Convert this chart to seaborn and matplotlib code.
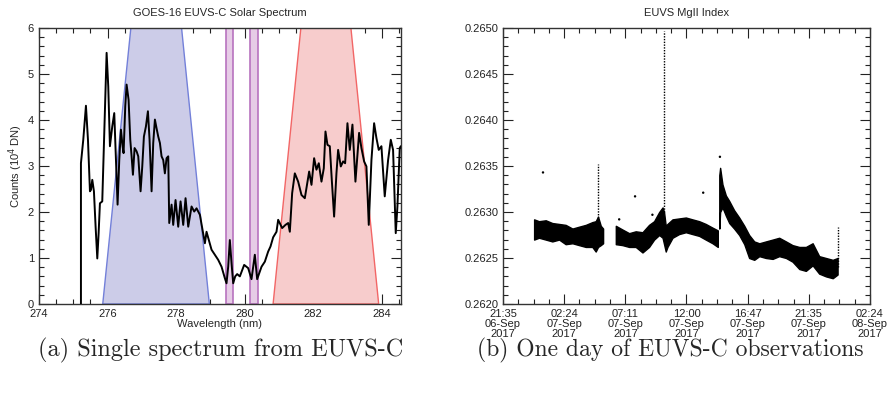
import numpy as np
import pandas as pd
import seaborn as sns
import matplotlib
matplotlib.use("Agg")
import matplotlib.pyplot as plt
import matplotlib.dates as mdates
from matplotlib.ticker import MultipleLocator, FixedLocator

# ---- panel (a): spectrum ----
wavelength = [275.224, 275.224, 275.292, 275.370, 275.429, 275.487, 275.516, 275.555, 275.603, 275.652,
              275.701, 275.740, 275.778, 275.846, 275.905, 275.973, 276.021, 276.070, 276.138, 276.196,
              276.245, 276.293, 276.342, 276.391, 276.439, 276.468, 276.517, 276.556, 276.614, 276.663,
              276.702, 276.741, 276.789, 276.847, 276.896, 276.964, 277.013, 277.061, 277.120, 277.178,
              277.226, 277.285, 277.333, 277.382, 277.430, 277.479, 277.528, 277.576, 277.625, 277.673,
              277.722, 277.771, 277.800, 277.868, 277.916, 277.984, 278.062, 278.130, 278.208, 278.276,
              278.354, 278.451, 278.529, 278.597, 278.694, 278.772, 278.840, 278.888, 278.956, 279.034,
              279.131, 279.228, 279.326, 279.423, 279.471, 279.520, 279.568, 279.617, 279.666, 279.724,
              279.782, 279.860, 279.986, 280.103, 280.200, 280.297, 280.365, 280.492, 280.589, 280.686,
              280.754, 280.832, 280.929, 280.978, 281.094, 281.191, 281.269, 281.318, 281.386, 281.464,
              281.561, 281.658, 281.755, 281.833, 281.882, 281.950, 282.027, 282.095, 282.163, 282.241,
              282.309, 282.358, 282.416, 282.484, 282.542, 282.610, 282.678, 282.727, 282.805, 282.873,
              282.931, 282.999, 283.067, 283.145, 283.232, 283.339, 283.407, 283.485, 283.553, 283.621,
              283.699, 283.777, 283.844, 283.912, 283.990, 284.087, 284.185, 284.263, 284.330, 284.408,
              284.457, 284.525, 284.555]
counts = [0.00, 3.06, 3.57, 4.31, 3.57, 2.45, 2.48, 2.70, 2.45, 1.68,
          0.99, 1.54, 2.19, 2.23, 3.72, 5.46, 4.73, 3.43, 3.86, 4.15,
          3.13, 2.16, 3.13, 3.79, 3.43, 3.28, 4.30, 4.77, 4.44, 3.57,
          3.21, 2.81, 3.39, 3.32, 3.21, 2.45, 2.99, 3.64, 3.86, 4.19,
          3.57, 2.45, 3.50, 4.01, 3.82, 3.64, 3.50, 3.21, 3.13, 2.84,
          3.17, 3.21, 1.76, 2.16, 1.72, 2.26, 1.68, 2.23, 1.72, 2.30,
          1.68, 2.12, 2.01, 2.08, 1.94, 1.61, 1.32, 1.57, 1.39, 1.18,
          1.07, 0.96, 0.81, 0.56, 0.45, 0.81, 1.39, 0.89, 0.45, 0.60,
          0.65, 0.60, 0.85, 0.78, 0.54, 1.07, 0.54, 0.81, 0.92, 1.14,
          1.25, 1.45, 1.57, 1.83, 1.65, 1.72, 1.76, 1.57, 2.41, 2.84,
          2.66, 2.37, 2.30, 2.66, 2.88, 2.59, 3.17, 2.92, 3.06, 2.66,
          2.95, 3.75, 3.46, 3.43, 2.70, 1.90, 2.84, 3.35, 2.99, 3.10,
          3.06, 3.93, 3.35, 3.90, 2.66, 3.72, 3.39, 3.10, 2.99, 1.72,
          3.13, 3.93, 3.61, 3.35, 3.43, 2.34, 3.13, 3.57, 3.35, 1.54,
          2.12, 3.39, 3.43]

# shaded windows (wavelength corners)
blue_x = [275.86, 276.68, 278.16, 278.97]
red_x = [280.83, 281.64, 283.10, 283.91]
purple_bands = [(279.47, 279.66), (280.17, 280.39)]

# ---- panel (b): MgII index band (lower / upper envelope) ----
seg1_time = ["2017-09-07 00:02", "2017-09-07 00:25", "2017-09-07 00:57", "2017-09-07 01:28",
             "2017-09-07 02:00", "2017-09-07 02:31", "2017-09-07 03:03", "2017-09-07 03:34",
             "2017-09-07 04:06", "2017-09-07 04:37", "2017-09-07 04:53", "2017-09-07 05:04",
             "2017-09-07 05:17", "2017-09-07 05:28"]
seg1_lo = [0.26270, 0.26272, 0.26270, 0.26268, 0.26270, 0.26265, 0.26266, 0.26264,
           0.26262, 0.26262, 0.26257, 0.26262, 0.26264, 0.26266]
seg1_hi = [0.26292, 0.26290, 0.26291, 0.26288, 0.26287, 0.26286, 0.26282, 0.26284,
           0.26286, 0.26289, 0.26290, 0.26295, 0.26285, 0.26282]

seg2_time = ["2017-09-07 06:28", "2017-09-07 06:59", "2017-09-07 07:31", "2017-09-07 08:02",
             "2017-09-07 08:34", "2017-09-07 09:05", "2017-09-07 09:29", "2017-09-07 09:53",
             "2017-09-07 10:09", "2017-09-07 10:16", "2017-09-07 10:24", "2017-09-07 10:32",
             "2017-09-07 10:56", "2017-09-07 11:27", "2017-09-07 11:59", "2017-09-07 12:30",
             "2017-09-07 13:02", "2017-09-07 13:33", "2017-09-07 14:05", "2017-09-07 14:30"]
seg2_lo = [0.26265, 0.26264, 0.26262, 0.26262, 0.26256, 0.26262, 0.26270, 0.26275,
           0.26272, 0.26265, 0.26257, 0.26262, 0.26272, 0.26276, 0.26278, 0.26276,
           0.26274, 0.26270, 0.26266, 0.26262]
seg2_hi = [0.26285, 0.26281, 0.26277, 0.26279, 0.26278, 0.26286, 0.26290, 0.26300,
           0.26305, 0.26300, 0.26285, 0.26287, 0.26292, 0.26293, 0.26294, 0.26292,
           0.26290, 0.26287, 0.26283, 0.26280]

seg3_time = ["2017-09-07 14:37", "2017-09-07 14:41", "2017-09-07 14:52", "2017-09-07 15:08",
             "2017-09-07 15:24", "2017-09-07 15:47", "2017-09-07 16:11", "2017-09-07 16:35",
             "2017-09-07 16:58", "2017-09-07 17:22", "2017-09-07 17:46", "2017-09-07 18:17",
             "2017-09-07 18:49", "2017-09-07 19:20", "2017-09-07 19:52", "2017-09-07 20:23",
             "2017-09-07 20:55", "2017-09-07 21:26", "2017-09-07 21:58", "2017-09-07 22:29",
             "2017-09-07 23:01", "2017-09-07 23:33", "2017-09-07 23:56"]
seg3_lo = [0.26282, 0.26300, 0.26305, 0.26296, 0.26288, 0.26282, 0.26275, 0.26265,
           0.26250, 0.26248, 0.26252, 0.26250, 0.26249, 0.26252, 0.26250, 0.26246,
           0.26238, 0.26236, 0.26242, 0.26233, 0.26230, 0.26228, 0.26232]
seg3_hi = [0.26340, 0.26348, 0.26330, 0.26318, 0.26312, 0.26302, 0.26294, 0.26285,
           0.26275, 0.26268, 0.26266, 0.26268, 0.26270, 0.26272, 0.26268, 0.26264,
           0.26262, 0.26262, 0.26266, 0.26252, 0.26250, 0.26248, 0.26250]

spike_time = ["2017-09-07 05:04", "2017-09-07 10:16", "2017-09-07 23:59"]
spike_lo = [0.26285, 0.26300, 0.26240]
spike_hi = [0.26352, 0.26497, 0.26284]

stray_time = ["2017-09-07 00:44", "2017-09-07 06:44", "2017-09-07 07:59", "2017-09-07 09:21",
              "2017-09-07 13:21", "2017-09-07 14:40"]
stray_val = [0.26343, 0.26292, 0.26317, 0.26297, 0.26321, 0.26360]

tick_labels_b = ["21:35\n06-Sep\n2017", "02:24\n07-Sep\n2017", "07:11\n07-Sep\n2017",
                 "12:00\n07-Sep\n2017", "16:47\n07-Sep\n2017", "21:35\n07-Sep\n2017",
                 "02:24\n08-Sep\n2017"]

sns.set_theme(style="ticks")
plt.rcParams['font.family'] = ['Liberation Sans', 'DejaVu Sans']
plt.rcParams['xtick.direction'] = 'in'
plt.rcParams['ytick.direction'] = 'in'

fig = plt.figure(figsize=(8.92, 3.95), dpi=100)
ax1 = fig.add_axes([0.0437, 0.2304, 0.4058, 0.6987])
ax2 = fig.add_axes([0.5639, 0.2304, 0.4114, 0.6987])

# panel a
ax1.fill([blue_x[0], blue_x[1], blue_x[2], blue_x[3]], [0, 6, 6, 0],
         facecolor=(0.80, 0.80, 0.91), edgecolor=(0.45, 0.50, 0.85), lw=1, zorder=1)
ax1.fill([red_x[0], red_x[1], red_x[2], red_x[3]], [0, 6, 6, 0],
         facecolor=(0.97, 0.80, 0.80), edgecolor=(0.95, 0.40, 0.40), lw=1, zorder=1)
for lo, hi in purple_bands:
    ax1.fill([lo, lo, hi, hi], [0, 6, 6, 0], facecolor=(0.90, 0.80, 0.90),
             edgecolor=(0.72, 0.45, 0.75), lw=1.2, zorder=1)
sns.lineplot(x=wavelength, y=counts, sort=False, estimator=None, color='black',
             lw=1.4, ax=ax1, zorder=3)
ax1.set_xlim(274, 284.56)
ax1.set_ylim(0, 6)
ax1.xaxis.set_major_locator(MultipleLocator(2))
ax1.xaxis.set_minor_locator(MultipleLocator(0.5))
ax1.yaxis.set_major_locator(MultipleLocator(1))
ax1.yaxis.set_minor_locator(MultipleLocator(0.2))
ax1.tick_params(which='both', top=True, right=True, labelsize=8, width=0.8, colors='#222222')
ax1.tick_params(which='major', length=7)
ax1.tick_params(which='minor', length=3.5)
ax1.set_xlabel("Wavelength (nm)", fontsize=8, labelpad=0)
ax1.set_ylabel("Counts (10$^4$ DN)", fontsize=8, labelpad=2)
ax1.set_title("GOES-16 EUVS-C Solar Spectrum", fontsize=8, pad=9)

# panel b
segs = [(seg1_time, seg1_lo, seg1_hi), (seg2_time, seg2_lo, seg2_hi), (seg3_time, seg3_lo, seg3_hi)]
for t, lo, hi in segs:
    tt = pd.to_datetime(t)
    ax2.fill_between(tt, lo, hi, color='black', lw=1.0, edgecolor='black')
ax2.vlines(pd.to_datetime(spike_time), spike_lo, spike_hi, colors='black', lw=1.0,
           linestyles=(0, (1, 1)))
sns.scatterplot(x=pd.to_datetime(stray_time), y=stray_val, s=3, color='black',
                edgecolor='none', ax=ax2)

tick_pos = pd.date_range("2017-09-06 21:35", periods=7, freq="289min")
minor_pos = pd.date_range("2017-09-06 21:35", periods=25, freq="4335s")
ax2.set_xlim(tick_pos[0], tick_pos[-1])
ax2.set_ylim(0.2620, 0.2650)
ax2.xaxis.set_major_locator(FixedLocator(mdates.date2num(tick_pos)))
ax2.xaxis.set_minor_locator(FixedLocator(mdates.date2num(minor_pos)))
ax2.set_xticklabels(tick_labels_b, linespacing=1.0)
ax2.yaxis.set_major_locator(MultipleLocator(0.0005))
ax2.yaxis.set_minor_locator(MultipleLocator(0.0001))
ax2.yaxis.set_major_formatter(plt.FormatStrFormatter('%.4f'))
ax2.tick_params(which='both', top=True, right=True, labelsize=8, width=0.8, colors='#222222')
ax2.tick_params(which='major', length=7)
ax2.tick_params(which='minor', length=3.5)
ax2.set_xlabel("")
ax2.set_ylabel("")
ax2.set_title("EUVS MgII Index", fontsize=8, pad=9)

for ax in (ax1, ax2):
    for s in ax.spines.values():
        s.set_linewidth(1.0)
        s.set_color('#333333')

fig.text(0.247, 0.113, "(a) Single spectrum from EUVS-C", fontfamily='cmr10',
         fontsize=17.5, ha='center', va='center')
fig.text(0.751, 0.113, "(b) One day of EUVS-C observations", fontfamily='cmr10',
         fontsize=17, ha='center', va='center')

fig.savefig("out.png", dpi=100)
